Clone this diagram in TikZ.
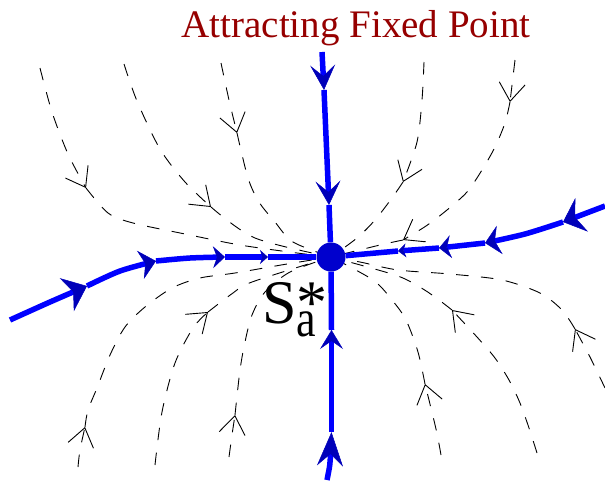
\documentclass[tikz,border=0pt]{standalone}
\usepackage{fontspec}
\setmainfont{Liberation Serif}
\usepackage{graphicx}
\usetikzlibrary{arrows.meta, backgrounds}

\definecolor{rossoscuro}{RGB}{150,0,0}
\definecolor{bluscuro}{RGB}{0,0,185}
\definecolor{blupunto}{RGB}{0,0,205}

\tikzset{
  barba/.tip={Straight Barb[length=18pt,width=26pt]},
  flusso/.style={black, line width=0.9pt, dash pattern=on 12.5pt off 12.5pt},
  linea/.style={blue, line width=5.5pt},
  testa/.style args={#1/#2/#3}{arrows={-Stealth[length=#1, width=#2, inset=#3, color=bluscuro, line width=0.5pt]}}
}

\begin{document}
\begin{tikzpicture}[x=1pt, y=-1pt]
    \useasboundingbox (0,0) rectangle (605,480);

    % Punto fisso
    \node[circle, fill=blupunto, minimum size=29pt, inner sep=0pt] (P) at (331,257) {};

    % Titolo ed etichetta
    \node[text=rossoscuro, font=\fontsize{39}{47}\selectfont, anchor=base] (titolo) at (356,37) {Attracting Fixed Point};
    \node[anchor=base west, inner sep=0pt, font=\fontsize{62}{70}\selectfont] (etichetta) at (262,323)
        {S\rlap{\raisebox{-13.5pt}{\scalebox{1}[1.2]{\fontsize{44}{44}\selectfont a}}}*};

    % Punti sulle varieta (estremi e frecce)
    \coordinate (alto) at (322,52);
    \coordinate (a1) at (324,90);
    \coordinate (a2) at (329,205);
    \coordinate (basso) at (327,480);
    \coordinate (b1) at (331.5,432);
    \coordinate (b2) at (331.5,330);
    \coordinate (sinistra) at (10,320);
    \coordinate (s1) at (87,286);
    \coordinate (s2) at (156,261);
    \coordinate (s3) at (225,257);
    \coordinate (s4) at (268,257);
    \coordinate (destra) at (605,206);
    \coordinate (d1) at (563,222);
    \coordinate (d2) at (485,243);
    \coordinate (d3) at (439,248);
    \coordinate (d4) at (398,251);

    \begin{scope}[on background layer]
    % Traiettorie tratteggiate (in alto)
    \draw[flusso, -barba] plot[smooth] coordinates {(40,68) (52,112) (68,154) (86,188)};
    \draw[flusso] plot[smooth] coordinates {(86,188) (108,213) (133,223) (185,234) (240,245) (297,253) (P)};
    \draw[flusso, -barba] plot[smooth] coordinates {(124,64) (137,101) (160,149) (185,182) (211,207)};
    \draw[flusso] plot[smooth] coordinates {(211,207) (255,238) (P)};
    \draw[flusso, -barba] plot[smooth] coordinates {(221,63) (229,100) (237,133)};
    \draw[flusso] plot[smooth] coordinates {(237,133) (248,178) (259,202) (275,222) (293,242) (P)};
    \draw[flusso, -barba] plot[smooth] coordinates {(424,62) (422,100) (417,142) (403,182)};
    \draw[flusso] plot[smooth] coordinates {(403,182) (392,198) (375,220) (357,238) (P)};
    \draw[flusso, -barba] (515,60) -- (510,102);
    \draw[flusso, -barba] plot[smooth] coordinates {(510,102) (505,123) (495,147) (482,170) (467,192) (447,210) (426,226) (403,240)};
    \draw[flusso] plot[smooth] coordinates {(403,240) (380,245) (P)};

    % Traiettorie tratteggiate (in basso)
    \draw[flusso, -barba] plot[smooth] coordinates {(78,467) (80,450) (85,427)};
    \draw[flusso] plot[smooth] coordinates {(85,427) (88,410) (97,388) (110,355) (125,327) (145,307) (172,288) (200,278) (235,273) (287,264) (P)};
    \draw[flusso, -barba] plot[smooth] coordinates {(155,465) (162,412) (175,363) (193,328) (208,312)};
    \draw[flusso] plot[smooth] coordinates {(208,312) (233,293) (252,282) (P)};
    \draw[flusso, -barba] plot[smooth] coordinates {(229,457) (232,435) (235,415)};
    \draw[flusso] plot[smooth] coordinates {(235,415) (240,370) (245,342) (252,315) (265,292) (290,272) (P)};
    \draw[flusso, -barba] plot[smooth] coordinates {(441,455) (436,429) (425,384)};
    \draw[flusso] plot[smooth] coordinates {(425,384) (418,352) (406,320) (392,300) (373,280) (P)};
    \draw[flusso, -barba] plot[smooth] coordinates {(537,453) (529,428) (520,403) (509,380) (495,358) (477,337) (452,310)};
    \draw[flusso] plot[smooth] coordinates {(452,310) (435,297) (418,286) (395,275) (P)};
    \draw[flusso, -barba] plot[smooth] coordinates {(605,388) (590,357) (575,329)};
    \draw[flusso] plot[smooth] coordinates {(575,329) (562,310) (540,293) (502,280) (450,274) (398,270) (360,262) (P)};

    % Varieta stabili (blu)
    \draw[linea, testa=25pt/25pt/11pt] (alto) -- (a1);
    \draw[linea, testa=24pt/25pt/11pt] (a1) -- (a2);
    \draw[linea] (a2) -- (P);
    \draw[linea, testa=34pt/26pt/12pt] (basso) .. controls (330,465) .. (b1);
    \draw[linea, testa=19pt/23pt/8pt] (b1) -- (b2);
    \draw[linea] (b2) -- (P);
    \draw[linea, testa=22pt/36pt/7pt] plot[smooth] coordinates {(sinistra) (50,302) (s1)};
    \draw[linea, testa=16pt/29pt/5pt] plot[smooth] coordinates {(s1) (120,271) (s2)};
    \draw[linea, testa=12pt/22pt/4pt] plot[smooth] coordinates {(s2) (190,258) (s3)};
    \draw[linea, testa=8pt/14pt/2.5pt] (s3) -- (s4);
    \draw[linea] (s4) -- (P);
    \draw[linea, testa=20pt/36pt/7pt] (destra) -- (d1);
    \draw[linea, testa=15pt/29pt/5pt] plot[smooth] coordinates {(d1) (525,234) (d2)};
    \draw[linea, testa=12pt/23pt/4pt] (d2) -- (d3);
    \draw[linea, testa=8pt/14pt/2.5pt] (d3) -- (d4);
    \draw[linea] (d4) -- (P);
    \end{scope}
\end{tikzpicture}
\end{document}
